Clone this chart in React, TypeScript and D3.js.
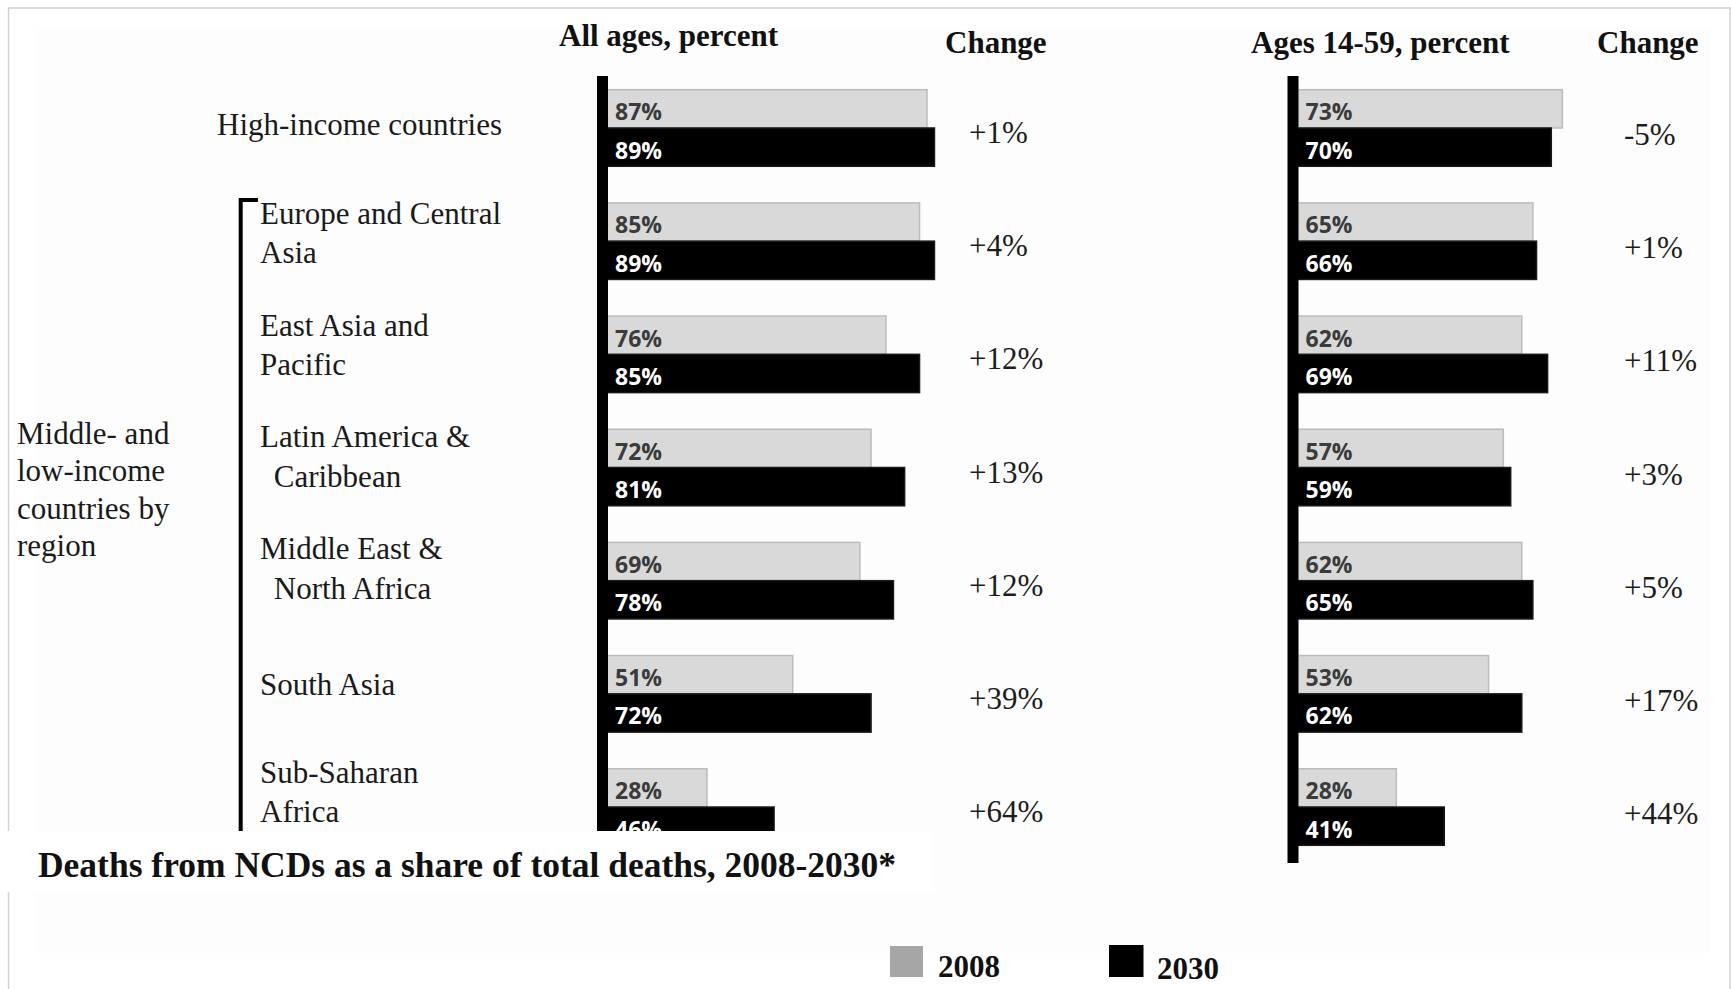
import React from "react";
import * as d3 from "d3";

// Regions shown as rows; multi-line labels are split as they are set in the figure
const categories = [
  "High-income countries",
  "Europe and Central Asia",
  "East Asia and Pacific",
  "Latin America & Caribbean",
  "Middle East & North Africa",
  "South Asia",
  "Sub-Saharan Africa",
];
const labelLines = [
  ["High-income countries"],
  ["Europe and Central", "Asia"],
  ["East Asia and", "Pacific"],
  ["Latin America &", " Caribbean"],
  ["Middle East &", " North Africa"],
  ["South Asia"],
  ["Sub-Saharan", "Africa"],
];
const groupLabel = ["Middle- and", "low-income", "countries by", "region"];

const years = ["2008", "2030"];

// All ages, percent of deaths from NCDs
const allAges2008 = [87, 85, 76, 72, 69, 51, 28];
const allAges2030 = [89, 89, 85, 81, 78, 72, 46];
const allAgesChange = ["+1%", "+4%", "+12%", "+13%", "+12%", "+39%", "+64%"];

// Ages 14-59, percent of deaths from NCDs
const working2008 = [73, 65, 62, 57, 62, 53, 28];
const working2030 = [70, 66, 69, 59, 65, 62, 41];
const workingChange = ["-5%", "+1%", "+11%", "+3%", "+5%", "+17%", "+44%"];

const panelTitles = ["All ages, percent", "Ages 14-59, percent"];
const changeTitle = "Change";
const chartTitle = "Deaths from NCDs as a share of total deaths, 2008-2030*";

const W = 1731;
const H = 989;
const SERIF = "'Liberation Serif', 'Times New Roman', serif";
const SANS = "'Open Sans', 'Noto Sans', sans-serif";

const yRow = d3
  .scaleBand<string>()
  .domain(categories)
  .range([71.4, 863.6])
  .paddingInner(0.3233)
  .paddingOuter(0.3233 / 2);
const ySeries = d3.scaleBand<string>().domain(years).range([0, yRow.bandwidth()]);

const xLeft = d3.scaleLinear().domain([0, 100]).range([602.5, 975.5]);
const xRight = d3.scaleLinear().domain([0, 100]).range([1293, 1662]);

const fills: Record<string, string> = { "2008": "#d9d9d9", "2030": "#000000" };
const strokes: Record<string, string> = { "2008": "#bcbcbc", "2030": "#1a1a1a" };
const labelColors: Record<string, string> = { "2008": "#3b3b3b", "2030": "#ffffff" };

function Panel({
  x,
  v2008,
  v2030,
  change,
  changeX,
  changeDy,
  axisBottom,
}: {
  x: d3.ScaleLinear<number, number>;
  v2008: number[];
  v2030: number[];
  change: string[];
  changeX: number;
  changeDy: number;
  axisBottom: number;
}) {
  const x0 = x(0);
  return (
    <g>
      {categories.map((c, i) => {
        const top = yRow(c)!;
        const center = top + yRow.bandwidth() / 2;
        return (
          <g key={c}>
            {years.map((yr) => {
              const v = yr === "2008" ? v2008[i] : v2030[i];
              const by = top + ySeries(yr)!;
              return (
                <g key={yr}>
                  <rect
                    x={x0}
                    y={by}
                    width={x(v) - x0}
                    height={ySeries.bandwidth()}
                    fill={fills[yr]}
                    stroke={strokes[yr]}
                    strokeWidth={1.5}
                  />
                  <text
                    x={x0 + 12.5}
                    y={by + ySeries.bandwidth() * 0.8}
                    fontFamily={SANS}
                    fontWeight={700}
                    fontSize={23}
                    fill={labelColors[yr]}
                  >
                    {`${v}%`}
                  </text>
                </g>
              );
            })}
            <text
              x={changeX}
              y={center + changeDy}
              fontFamily={SERIF}
              fontSize={31}
              fill="#1c1c1c"
            >
              {change[i]}
            </text>
          </g>
        );
      })}
      <rect x={x0 - 5.5} y={76} width={11} height={axisBottom - 76} fill="#000" />
    </g>
  );
}

export default function App() {
  return (
    <svg
      width={W}
      height={H}
      viewBox={`0 0 ${W} ${H}`}
      style={{ position: "absolute", left: 0, top: 0, background: "#fff" }}
    >
      {/* page frame and faint panel tint */}
      <rect x={35} y={30} width={1675} height={923} fill="#fdfdfd" />
      <line x1={8} y1={8} x2={W} y2={8} stroke="#d2d2d2" strokeWidth={1.5} />
      <line x1={8.5} y1={8} x2={8.5} y2={H} stroke="#d2d2d2" strokeWidth={1.5} />
      <line x1={1730} y1={8} x2={1730} y2={H} stroke="#d2d2d2" strokeWidth={1.5} />

      {/* column headers */}
      <g fontFamily={SERIF} fontWeight={700} fontSize={31} fill="#111">
        <text x={559} y={46}>{panelTitles[0]}</text>
        <text x={945} y={53}>{changeTitle}</text>
        <text x={1251} y={53}>{panelTitles[1]}</text>
        <text x={1597} y={53}>{changeTitle}</text>
      </g>

      {/* row labels */}
      <g fontFamily={SERIF} fontSize={31} fill="#1a1a1a" style={{ whiteSpace: "pre" }}>
        {categories.map((c, i) => {
          const center = yRow(c)! + yRow.bandwidth() / 2;
          const lines = labelLines[i];
          const lx = i === 0 ? 217 : 260;
          if (lines.length === 1) {
            return (
              <text key={c} x={lx} y={center + 7 - i * 1.2}>
                {lines[0]}
              </text>
            );
          }
          return (
            <text key={c} x={lx} y={center - 16 - i * 1.4}>
              {lines.map((ln, j) => (
                <tspan
                  key={j}
                  x={lx}
                  dx={ln.startsWith(" ") ? 6 : 0}
                  dy={j === 0 ? 0 : 39.5}
                >
                  {ln}
                </tspan>
              ))}
            </text>
          );
        })}
      </g>

      {/* group bracket and label */}
      <path d="M258,200 H240.7 V860" fill="none" stroke="#000" strokeWidth={4} />
      <text fontFamily={SERIF} fontSize={31} fill="#1a1a1a" x={17} y={444}>
        {groupLabel.map((ln, j) => (
          <tspan key={j} x={17} dy={j === 0 ? 0 : 37.3}>
            {ln}
          </tspan>
        ))}
      </text>

      <Panel
        x={xLeft}
        v2008={allAges2008}
        v2030={allAges2030}
        change={allAgesChange}
        changeX={969}
        changeDy={15}
        axisBottom={860}
      />
      <Panel
        x={xRight}
        v2008={working2008}
        v2030={working2030}
        change={workingChange}
        changeX={1624}
        changeDy={17}
        axisBottom={863}
      />

      {/* title box laid over the lower left of the chart */}
      <rect x={0} y={831} width={933} height={61} fill="#ffffff" />
      <text
        x={38}
        y={877}
        fontFamily={SERIF}
        fontWeight={700}
        fontSize={35}
        textLength={858}
        lengthAdjust="spacingAndGlyphs"
        fill="#111"
      >
        {chartTitle}
      </text>

      {/* legend */}
      <g fontFamily={SERIF} fontWeight={700} fontSize={31} fill="#111">
        <rect x={890} y={946} width={33} height={31} fill="#a6a6a6" />
        <text x={938} y={977}>{years[0]}</text>
        <rect x={1109} y={945} width={34.5} height={32} fill="#000" />
        <text x={1157} y={979}>{years[1]}</text>
      </g>
    </svg>
  );
}
